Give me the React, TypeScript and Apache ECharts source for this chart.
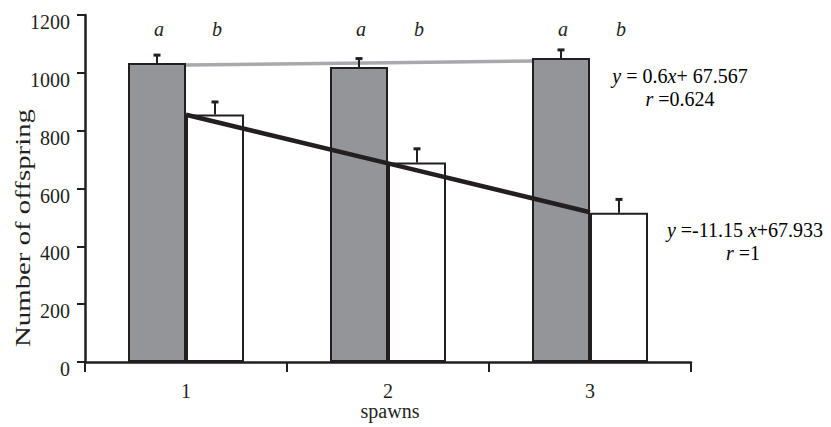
import React, { useEffect, useRef } from "react";
import * as echarts from "echarts";

// ---- data ----
const categories = ["1", "2", "3"];
const grayValues = [1034, 1020, 1051];
const grayErrors = [29, 31, 30];
const whiteValues = [856, 690, 516];
const whiteErrors = [45, 49, 48];
const grayTrend = [1027, 1035, 1043];
const blackTrend = [855, 687, 518];
const groupLetters = ["a", "b"];
const letterLevel = 1152;
const yMin = 0;
const yMax = 1200;
const yInterval = 200;
const yTickValues = [0, 200, 400, 600, 800, 1000, 1200];
const xTitle = "spawns";
const yTitle = "Number of offspring";

// ---- style ----
const INK = "#231f20";
const GRAY = "#939598";
const TREND_GRAY = "#a7a9ac";
const FONT = "'Liberation Serif', 'Times New Roman', serif";
const BAR_W = 58;

export default function App() {
  const ref = useRef<HTMLDivElement>(null);
  useEffect(() => {
    if (!ref.current) return;
    const chart = echarts.init(ref.current, null, { renderer: "svg" });

    const errSeries = (values: number[], errors: number[], side: number, letter: string) => ({
      type: "custom",
      z: 5,
      data: values.map((v, i) => [i, v, errors[i]]),
      encode: { x: 0, y: 1 },
      renderItem: (params: any, api: any) => {
        const i = api.value(0);
        const v = api.value(1);
        const e = api.value(2);
        const base = api.coord([i, v]);
        const top = api.coord([i, v + e]);
        const lt = api.coord([i, letterLevel]);
        const x = base[0] + side * (BAR_W / 2);
        return {
          type: "group",
          children: [
            {
              type: "line",
              shape: { x1: x, y1: base[1], x2: x, y2: top[1] },
              style: { stroke: INK, lineWidth: 2 },
            },
            {
              type: "rect",
              shape: { x: x - 3.5, y: top[1] - 1, width: 7, height: 3 },
              style: { fill: INK },
            },
            {
              type: "text",
              x: x + 2,
              y: lt[1],
              style: {
                text: letter,
                font: `italic 20px ${FONT}`,
                fill: INK,
                align: "center",
                verticalAlign: "middle",
              },
            },
          ],
        };
      },
    });

    const eqRich = {
      i: { fontStyle: "italic", fontSize: 20, fontFamily: FONT, color: INK },
      n: { fontSize: 20, fontFamily: FONT, color: INK },
    };

    chart.setOption({
      animation: false,
      grid: {
        left: 85,
        right: 140,
        top: 15,
        bottom: 65,
        containLabel: false,
        outerBoundsMode: "none",
      },
      xAxis: {
        type: "category",
        data: categories,
        boundaryGap: true,
        axisLine: { lineStyle: { color: INK, width: 2.5 } },
        axisTick: { show: true, length: 10, lineStyle: { color: INK, width: 2 } },
        axisLabel: { color: INK, fontFamily: FONT, fontSize: 20, margin: 21, lineHeight: 16 },
      },
      yAxis: {
        type: "value",
        min: yMin,
        max: yMax,
        interval: yInterval,
        splitLine: { show: false },
        axisLine: { show: true, lineStyle: { color: INK, width: 2.5 } },
        axisTick: { show: true, length: 8, lineStyle: { color: INK, width: 2 } },
        axisLabel: { show: false },
      },
      graphic: [
        {
          type: "text",
          x: 23,
          y: 228,
          rotation: Math.PI / 2,
          scaleX: 1.31,
          style: {
            text: yTitle,
            font: `22px ${FONT}`,
            fill: INK,
            align: "center",
            verticalAlign: "middle",
          },
        },
        {
          type: "text",
          x: 390,
          y: 411,
          style: {
            text: xTitle,
            font: `20px ${FONT}`,
            lineHeight: 16,
            fill: INK,
            align: "center",
            verticalAlign: "middle",
          },
        },
        {
          type: "text",
          x: 680,
          y: 76,
          style: {
            text: "{i|y}{n| = 0.6}{i|x}{n|+ 67.567}",
            rich: eqRich,
            align: "center",
            verticalAlign: "middle",
          },
        },
        {
          type: "text",
          x: 680,
          y: 99,
          style: {
            text: "{i|r}{n| =0.624}",
            rich: eqRich,
            align: "center",
            verticalAlign: "middle",
          },
        },
        {
          type: "text",
          x: 745,
          y: 230,
          style: {
            text: "{i|y}{n| =-11.15 }{i|x}{n|+67.933}",
            rich: eqRich,
            align: "center",
            verticalAlign: "middle",
          },
        },
        {
          type: "text",
          x: 743,
          y: 253,
          style: {
            text: "{i|r}{n| =1}",
            rich: eqRich,
            align: "center",
            verticalAlign: "middle",
          },
        },
      ],
      series: [
        {
          type: "line",
          data: grayTrend,
          symbol: "none",
          z: 1,
          lineStyle: { color: TREND_GRAY, width: 3.5 },
        },
        {
          type: "bar",
          data: grayValues,
          barWidth: BAR_W,
          barGap: "0%",
          z: 2,
          itemStyle: { color: GRAY, borderColor: INK, borderWidth: 2 },
        },
        {
          type: "bar",
          data: whiteValues,
          barWidth: BAR_W,
          barGap: "0%",
          z: 2,
          itemStyle: { color: "#ffffff", borderColor: INK, borderWidth: 2 },
        },
        errSeries(grayValues, grayErrors, -1, groupLetters[0]),
        errSeries(whiteValues, whiteErrors, 1, groupLetters[1]),
        {
          type: "line",
          data: blackTrend,
          symbol: "none",
          z: 6,
          lineStyle: { color: INK, width: 4.5 },
        },
        {
          // y-axis tick labels, placed through the value scale
          type: "custom",
          clip: false,
          silent: true,
          z: 7,
          data: yTickValues.map((v) => [0, v]),
          encode: { x: 0, y: 1 },
          renderItem: (params: any, api: any) => {
            const v = api.value(1);
            const p = api.coord([0, v]);
            const left = params.coordSys.x;
            return {
              type: "text",
              x: left - 15,
              y: p[1] + 7,
              style: {
                text: String(v),
                font: `20px ${FONT}`,
                fill: INK,
                align: "right",
                verticalAlign: "middle",
              },
            };
          },
        },
      ],
    });
    return () => chart.dispose();
  }, []);
  return (
    <div
      ref={ref}
      style={{ position: "fixed", left: 0, top: 0, width: 831, height: 427, background: "#fff" }}
    />
  );
}
